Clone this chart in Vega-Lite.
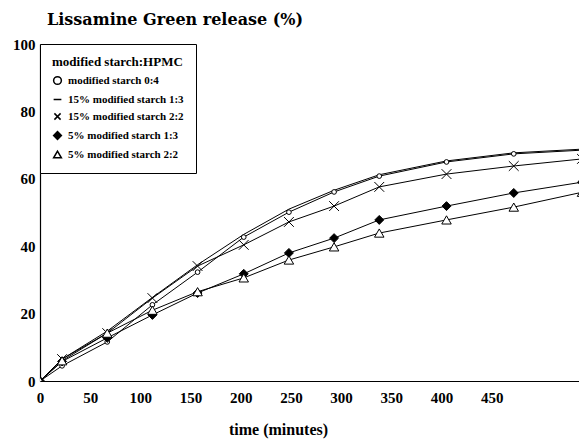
{
  "$schema": "https://vega.github.io/schema/vega-lite/v6.json",
  "autosize": "none",
  "width": 539,
  "height": 337,
  "padding": {"left": 40, "top": 44, "right": 0, "bottom": 59},
  "background": "white",
  "config": {"view": {"stroke": null}, "font": "Liberation Serif"},
  "title": {"text": "Lissamine Green release (%)", "anchor": "start", "frame": "group", "offset": 9, "dx": 7, "font": "DejaVu Serif", "fontSize": 16, "fontWeight": "bold", "color": "black"},
  "data": {"values": [
    {"t": 0, "v": 0, "s": "modified starch 0:4"},
    {"t": 22, "v": 4.5, "s": "modified starch 0:4"},
    {"t": 67, "v": 11.6, "s": "modified starch 0:4"},
    {"t": 112, "v": 22.6, "s": "modified starch 0:4"},
    {"t": 157, "v": 32.3, "s": "modified starch 0:4"},
    {"t": 203, "v": 42.7, "s": "modified starch 0:4"},
    {"t": 248, "v": 50.1, "s": "modified starch 0:4"},
    {"t": 293, "v": 56.1, "s": "modified starch 0:4"},
    {"t": 338, "v": 60.8, "s": "modified starch 0:4"},
    {"t": 405, "v": 65.0, "s": "modified starch 0:4"},
    {"t": 472, "v": 67.4, "s": "modified starch 0:4"},
    {"t": 540, "v": 68.5, "s": "modified starch 0:4"},
    {"t": 0, "v": 0, "s": "15% modified starch 1:3"},
    {"t": 22, "v": 6.5, "s": "15% modified starch 1:3"},
    {"t": 67, "v": 14.8, "s": "15% modified starch 1:3"},
    {"t": 112, "v": 24.8, "s": "15% modified starch 1:3"},
    {"t": 157, "v": 34.5, "s": "15% modified starch 1:3"},
    {"t": 203, "v": 43.5, "s": "15% modified starch 1:3"},
    {"t": 248, "v": 51.0, "s": "15% modified starch 1:3"},
    {"t": 293, "v": 56.6, "s": "15% modified starch 1:3"},
    {"t": 338, "v": 61.2, "s": "15% modified starch 1:3"},
    {"t": 405, "v": 65.3, "s": "15% modified starch 1:3"},
    {"t": 472, "v": 67.7, "s": "15% modified starch 1:3"},
    {"t": 540, "v": 68.8, "s": "15% modified starch 1:3"},
    {"t": 0, "v": 0, "s": "15% modified starch 2:2"},
    {"t": 22, "v": 6.5, "s": "15% modified starch 2:2"},
    {"t": 67, "v": 14.2, "s": "15% modified starch 2:2"},
    {"t": 112, "v": 24.6, "s": "15% modified starch 2:2"},
    {"t": 157, "v": 34.1, "s": "15% modified starch 2:2"},
    {"t": 203, "v": 40.4, "s": "15% modified starch 2:2"},
    {"t": 248, "v": 47.2, "s": "15% modified starch 2:2"},
    {"t": 293, "v": 51.9, "s": "15% modified starch 2:2"},
    {"t": 338, "v": 57.6, "s": "15% modified starch 2:2"},
    {"t": 405, "v": 61.4, "s": "15% modified starch 2:2"},
    {"t": 472, "v": 63.8, "s": "15% modified starch 2:2"},
    {"t": 540, "v": 65.9, "s": "15% modified starch 2:2"},
    {"t": 0, "v": 0, "s": "5% modified starch 1:3"},
    {"t": 22, "v": 5.8, "s": "5% modified starch 1:3"},
    {"t": 67, "v": 12.8, "s": "5% modified starch 1:3"},
    {"t": 112, "v": 19.6, "s": "5% modified starch 1:3"},
    {"t": 157, "v": 26.1, "s": "5% modified starch 1:3"},
    {"t": 203, "v": 31.8, "s": "5% modified starch 1:3"},
    {"t": 248, "v": 38.0, "s": "5% modified starch 1:3"},
    {"t": 293, "v": 42.4, "s": "5% modified starch 1:3"},
    {"t": 338, "v": 47.8, "s": "5% modified starch 1:3"},
    {"t": 405, "v": 51.9, "s": "5% modified starch 1:3"},
    {"t": 472, "v": 55.8, "s": "5% modified starch 1:3"},
    {"t": 540, "v": 59.0, "s": "5% modified starch 1:3"},
    {"t": 0, "v": 0, "s": "5% modified starch 2:2"},
    {"t": 22, "v": 6.0, "s": "5% modified starch 2:2"},
    {"t": 67, "v": 14.2, "s": "5% modified starch 2:2"},
    {"t": 112, "v": 21.0, "s": "5% modified starch 2:2"},
    {"t": 157, "v": 26.5, "s": "5% modified starch 2:2"},
    {"t": 203, "v": 30.6, "s": "5% modified starch 2:2"},
    {"t": 248, "v": 35.9, "s": "5% modified starch 2:2"},
    {"t": 293, "v": 39.8, "s": "5% modified starch 2:2"},
    {"t": 338, "v": 43.9, "s": "5% modified starch 2:2"},
    {"t": 405, "v": 47.8, "s": "5% modified starch 2:2"},
    {"t": 472, "v": 51.6, "s": "5% modified starch 2:2"},
    {"t": 540, "v": 56.0, "s": "5% modified starch 2:2"}
  ]},
  "encoding": {
    "x": {"field": "t", "type": "quantitative",
      "scale": {"domain": [0, 537], "nice": false, "zero": false},
      "axis": {"values": [0, 50, 100, 150, 200, 250, 300, 350, 400, 450], "ticks": false, "grid": false, "domainColor": "black", "domainWidth": 1.2,
        "labelFont": "Liberation Serif", "labelFontSize": 15, "labelFontWeight": "bold", "labelColor": "black", "labelPadding": 9, "labelFlush": false,
        "title": "time (minutes)", "titleFont": "Liberation Serif", "titleFontSize": 16, "titleFontWeight": "bold", "titleColor": "black",
        "titleX": 238, "titleY": 53, "titleBaseline": "alphabetic", "titleAlign": "center"}},
    "y": {"field": "v", "type": "quantitative",
      "scale": {"domain": [0, 100], "nice": false},
      "axis": {"values": [0, 20, 40, 60, 80, 100], "ticks": false, "grid": false, "domainColor": "black", "domainWidth": 1.2,
        "labelFont": "Liberation Serif", "labelFontSize": 15, "labelFontWeight": "bold", "labelColor": "black", "labelPadding": 5, "labelFlush": false,
        "title": null}},
    "shape": {"field": "s", "type": "nominal",
      "scale": {"domain": ["modified starch 0:4", "15% modified starch 1:3", "15% modified starch 2:2", "5% modified starch 1:3", "5% modified starch 2:2"],
                "range": ["circle", "stroke", "M-0.8,-0.8L0.8,0.8M-0.8,0.8L0.8,-0.8", "diamond", "triangle-up"]},
      "legend": {"orient": "none", "legendX": 0, "legendY": 0, "strokeColor": "black", "fillColor": "white", "padding": 12,
        "title": "modified starch:HPMC", "titleFont": "Liberation Serif", "titleFontSize": 13, "titleFontWeight": "bold", "titleColor": "black", "titlePadding": 6,
        "labelFont": "Liberation Serif", "labelFontSize": 11, "labelFontWeight": "bold", "labelColor": "black", "rowPadding": 5,
        "symbolSize": 60, "labelOffset": 5,
        "encode": {"symbols": {"update": {"stroke": {"value": "black"}, "strokeWidth": {"value": 1}}}}}},
    "fill": {"field": "s", "type": "nominal",
      "scale": {"domain": ["modified starch 0:4", "15% modified starch 1:3", "15% modified starch 2:2", "5% modified starch 1:3", "5% modified starch 2:2"],
                "range": ["white", "black", "black", "black", "white"]},
      "legend": {"orient": "none", "legendX": 0, "legendY": 0, "strokeColor": "black", "fillColor": "white", "padding": 12,
        "title": "modified starch:HPMC", "titleFont": "Liberation Serif", "titleFontSize": 13, "titleFontWeight": "bold", "titleColor": "black", "titlePadding": 6,
        "labelFont": "Liberation Serif", "labelFontSize": 11, "labelFontWeight": "bold", "labelColor": "black", "rowPadding": 5,
        "symbolSize": 60, "labelOffset": 5,
        "encode": {"symbols": {"update": {"stroke": {"value": "black"}, "strokeWidth": {"value": 1}}}}}}
  },
  "layer": [
    {"mark": {"type": "line", "color": "black", "strokeWidth": 1, "clip": true},
     "encoding": {"detail": {"field": "s"}, "shape": null, "fill": null}},
    {"transform": [{"filter": "datum.s === 'modified starch 0:4'"}],
     "mark": {"type": "point", "stroke": "black", "strokeWidth": 1, "opacity": 1, "clip": true, "filled": true, "size": 22}},
    {"transform": [{"filter": "datum.s === '15% modified starch 2:2'"}],
     "mark": {"type": "point", "stroke": "black", "strokeWidth": 1, "opacity": 1, "clip": true, "filled": true, "size": 150}},
    {"transform": [{"filter": "datum.s === '5% modified starch 1:3'"}],
     "mark": {"type": "point", "stroke": "black", "strokeWidth": 1, "opacity": 1, "clip": true, "filled": true, "size": 80}},
    {"transform": [{"filter": "datum.s === '5% modified starch 2:2'"}],
     "mark": {"type": "point", "stroke": "black", "strokeWidth": 1, "opacity": 1, "clip": true, "filled": true, "size": 90}}
  ]
}
